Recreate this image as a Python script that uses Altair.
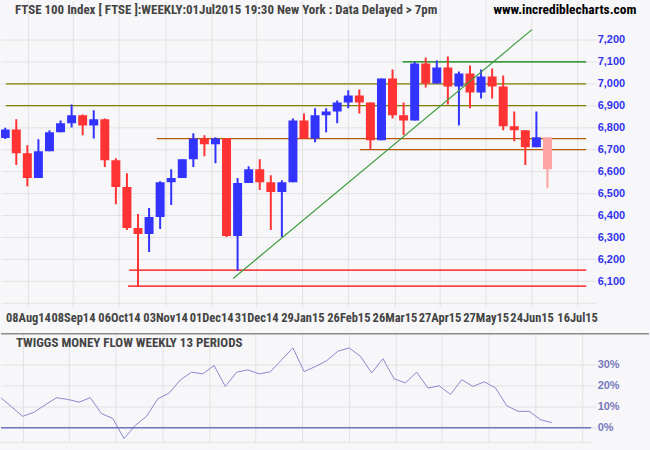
import altair as alt
import pandas as pd

# ---------------- data ----------------
week = list(range(50))
opens = [6753, 6792, 6683, 6570, 6692, 6779, 6820, 6856, 6810, 6838,
         6651, 6529, 6342, 6315, 6392, 6551, 6570, 6656, 6751, 6724,
         6751, 6306, 6547, 6610, 6551, 6506, 6551, 6833, 6751, 6856,
         6874, 6915, 6947, 6915, 6742, 7024, 6856, 6833, 7092, 7001,
         7074, 6988, 7047, 6960, 7033, 6988, 6806, 6788, 6710, 6756]
highs = [6800, 6838, 6720, 6747, 6788, 6833, 6906, 6860, 6879, 6842,
         6660, 6592, 6406, 6433, 6556, 6610, 6656, 6774, 6765, 6756,
         6751, 6570, 6624, 6656, 6583, 6560, 6842, 6865, 6888, 6888,
         6924, 6970, 6974, 6915, 7024, 7065, 6915, 7101, 7120, 7106,
         7124, 7056, 7083, 7065, 7070, 7038, 6874, 6788, 6874, 6756]
lows = [6748, 6629, 6533, 6570, 6692, 6779, 6801, 6765, 6751, 6620,
        6451, 6333, 6077, 6233, 6338, 6447, 6570, 6620, 6670, 6638,
        6301, 6147, 6547, 6515, 6333, 6301, 6551, 6751, 6733, 6779,
        6820, 6888, 6865, 6701, 6742, 6842, 6765, 6833, 6983, 7001,
        6906, 6810, 6888, 6933, 6933, 6788, 6738, 6629, 6710, 6524]
closes = [6792, 6683, 6570, 6692, 6779, 6820, 6856, 6810, 6838, 6651,
          6529, 6342, 6315, 6392, 6551, 6570, 6656, 6751, 6724, 6751,
          6306, 6547, 6610, 6551, 6506, 6551, 6833, 6751, 6856, 6874,
          6915, 6947, 6915, 6742, 7024, 6856, 6833, 7092, 7001, 7074,
          6988, 7047, 6960, 7033, 6988, 6806, 6788, 6710, 6756, 6610]
money_flow = [14.6, 10.0, 5.4, 7.4, 10.9, 14.3, 13.5, 12.2, 14.3, 6.7,
              4.4, -5.2, 1.1, 5.4, 13.8, 16.5, 22.8, 26.5, 25.7, 29.7,
              19.7, 26.5, 27.6, 25.7, 26.7, 32.4, 38.1, 26.8, 29.2, 32.0,
              36.5, 38.1, 34.1, 26.2, 32.9, 23.3, 21.4, 26.5, 18.9, 20.0,
              15.9, 22.9, 19.7, 21.9, 19.0, 10.5, 7.8, 7.8, 3.8, 2.4]

tick_weeks = [2.05, 6.12, 10.28, 14.45, 18.61, 22.68, 26.85, 31.01, 35.17,
              39.25, 43.41, 47.57, 51.68]
tick_labels = ["08Aug14", "08Sep14", "06Oct14", "03Nov14", "01Dec14", "31Dec14",
               "29Jan15", "26Feb15", "26Mar15", "27Apr15", "27May15", "24Jun15",
               "16Jul15"]

level_names = ["top", "upper1", "upper2", "mid1", "mid2", "low1", "low2"]
level_values = [7100, 7000, 6900, 6750, 6700, 6150, 6077]
level_from = [35.9, 0.07, 0.07, 13.7, 32.05, 11.2, 11.1]

trend_weeks = [20.6, 47.6]
trend_levels = [6112, 7247]

price_ticks = list(range(6000, 7201, 100))
mf_ticks = [0, 10, 20, 30]

TITLE = "FTSE 100 Index [ FTSE ]:WEEKLY:01Jul2015 19:30 New York : Data Delayed > 7pm"
SITE = "www.incrediblecharts.com"
MF_TITLE = "TWIGGS MONEY FLOW WEEKLY 13 PERIODS"

# ---------------- styles ----------------
BG = "#f7f7f9"
GRID = "#e2e2e4"
NARROW = "Liberation Sans Narrow, Arial Narrow, Roboto Condensed, DejaVu Sans Condensed, sans-serif"
WIDE = "Liberation Sans, Arial, sans-serif"
CANDLE_COLORS = {"up": "#3333ff", "down": "#ff3333", "current": "#ffa4a4"}
LEVEL_COLORS = {"top": "#008000", "upper1": "#808000", "upper2": "#808000",
                "mid1": "#b45a00", "mid2": "#b45a00", "low1": "#ff0000", "low2": "#ff0000"}

X_DOMAIN = [0.07, 52.5]
Y_DOMAIN = [5983, 7379]
MF_DOMAIN = [-7.0, 44.9]
W = 592
H1 = 307
H2 = 109

# ---------------- frames ----------------
df = pd.DataFrame({"week": week, "open": opens, "high": highs, "low": lows,
                   "close": closes, "mf": money_flow})
df["dir"] = ["up" if c >= o else "down" for o, c in zip(opens, closes)]
df.loc[df.index[-1], "dir"] = "current"
df["fill"] = df["dir"].map(CANDLE_COLORS)

lv = pd.DataFrame({"name": level_names, "value": level_values, "start": level_from})
lv["end"] = X_DOMAIN[1]
lv["col"] = lv["name"].map(LEVEL_COLORS)

tr = pd.DataFrame({"week": trend_weeks, "level": trend_levels})

label_expr = "[" + ",".join("'%s'" % t for t in tick_labels) + "][indexof([" + \
    ",".join(str(v) for v in tick_weeks) + "], datum.value)]"

xscale = alt.Scale(domain=X_DOMAIN, nice=False, zero=False)
yscale = alt.Scale(domain=Y_DOMAIN, nice=False, zero=False)

x_axis_main = alt.Axis(values=tick_weeks, labelExpr=label_expr, grid=True, gridColor=GRID,
                       ticks=False, domain=False, labelFont=NARROW, labelFontSize=12.5,
                       labelFontWeight="bold", labelColor="#444444", labelPadding=5,
                       labelOverlap=False, title=None)
y_axis_main = alt.Axis(orient="right", values=price_ticks,
                       labelExpr="datum.value < 6050 ? '' : format(datum.value, ',')",
                       grid=True, gridColor=GRID, tickColor=GRID, tickSize=5, domain=False,
                       labelPadding=1, labelColor="#3333ee", labelFontWeight="bold",
                       labelFont=WIDE, labelFontSize=11, labelOverlap=False, title=None)

base = alt.Chart(df)

wicks = base.mark_rule(strokeWidth=2, clip=True).encode(
    x=alt.X("week:Q", scale=xscale, axis=x_axis_main, title=None),
    y=alt.Y("low:Q", scale=yscale, axis=y_axis_main, title=None),
    y2="high:Q",
    color=alt.Color("fill:N", scale=None),
)
bodies = base.mark_bar(size=9, clip=True).encode(
    x=alt.X("week:Q", scale=xscale, axis=x_axis_main, title=None),
    y=alt.Y("open:Q", scale=yscale, axis=y_axis_main, title=None),
    y2="close:Q",
    color=alt.Color("fill:N", scale=None),
)
levels = alt.Chart(lv).mark_rule(strokeWidth=1.3, clip=True).encode(
    x=alt.X("start:Q", scale=xscale, axis=x_axis_main, title=None),
    x2="end:Q",
    y=alt.Y("value:Q", scale=yscale, axis=y_axis_main, title=None),
    color=alt.Color("col:N", scale=None),
)
trend = alt.Chart(tr).mark_line(color="#3a9a3a", strokeWidth=1.2, clip=True).encode(
    x=alt.X("week:Q", scale=xscale, axis=x_axis_main, title=None),
    y=alt.Y("level:Q", scale=yscale, axis=y_axis_main, title=None),
)
title_txt = alt.Chart(pd.DataFrame({"t": [TITLE]})).mark_text(
    align="left", baseline="middle", font=NARROW, fontSize=13, fontWeight="bold",
    color="#444444").encode(x=alt.value(14), y=alt.value(9), text="t:N")
site_txt = alt.Chart(pd.DataFrame({"t": [SITE]})).mark_text(
    align="left", baseline="middle", font=NARROW, fontSize=13.5, fontWeight="bold",
    color="#000000").encode(x=alt.value(494), y=alt.value(9), text="t:N")

main = alt.layer(levels, wicks, bodies, trend, title_txt, site_txt).properties(width=W, height=H1)

# ---------------- lower panel ----------------
mscale = alt.Scale(domain=MF_DOMAIN, nice=False, zero=False)
x_axis_low = alt.Axis(values=tick_weeks, labels=False, ticks=False, domain=False, grid=True,
                      gridColor=GRID, title=None)
y_axis_low = alt.Axis(orient="right", values=mf_ticks, labelExpr="datum.value + '%'",
                      grid=True, gridColor=GRID, tickColor=GRID, tickSize=5, domain=False,
                      labelPadding=1, labelColor="#7777bb", labelFontWeight="bold",
                      labelFont=WIDE, labelFontSize=11, labelOverlap=False, title=None)

mf_line = base.mark_line(color="#8888cc", strokeWidth=1, clip=True).encode(
    x=alt.X("week:Q", scale=xscale, axis=x_axis_low, title=None),
    y=alt.Y("mf:Q", scale=mscale, axis=y_axis_low, title=None),
)
zero_df = pd.DataFrame({"z": [0]})
zero_line = alt.Chart(zero_df).mark_rule(color="#7474bc", strokeWidth=1.5).encode(
    y=alt.Y("z:Q", scale=mscale, axis=y_axis_low, title=None),
)
sep = alt.Chart(pd.DataFrame({"a": [0]})).mark_rule(color="#8c8c8c", strokeWidth=1.5).encode(
    x=alt.value(0), x2=alt.value(650), y=alt.value(0))
bottom = alt.Chart(pd.DataFrame({"a": [0]})).mark_rule(color=GRID, strokeWidth=1).encode(
    x=alt.value(0), x2=alt.value(W), y=alt.value(H2))
mf_title = alt.Chart(pd.DataFrame({"t": [MF_TITLE]})).mark_text(
    align="left", baseline="middle", font=NARROW, fontSize=13, fontWeight="bold",
    color="#444444").encode(x=alt.value(15), y=alt.value(9), text="t:N")

lower = alt.layer(mf_line, zero_line, bottom, sep, mf_title).properties(width=W, height=H2)

chart = alt.vconcat(main, lower, spacing=8).properties(
    padding={"left": 0, "right": 0, "top": 0, "bottom": 8},
    background=BG,
).configure_view(stroke=None, fill=BG)

chart.save("out.html", embed_options={"renderer": "svg", "actions": False})
